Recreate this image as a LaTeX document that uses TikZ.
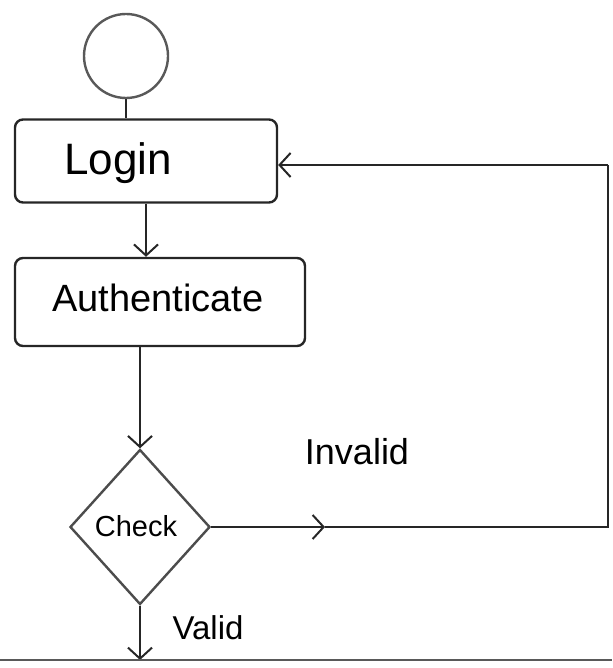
\documentclass[tikz,border=0pt]{standalone}
\usepackage{fontspec}
\setmainfont{Liberation Sans}
\usetikzlibrary{shapes.geometric,arrows.meta}
\begin{document}
\begin{tikzpicture}[x=1pt,y=-1pt,
  ln/.style={line width=2.4pt,draw=black!85},
  arr/.style={ln,-{Straight Barb[length=11pt,width=24pt,line width=2pt]}},
  boxnode/.style={ln,rectangle,rounded corners=8pt,inner sep=0pt},
  lbl/.style={font=\fontsize{36}{40}\selectfont}]
\useasboundingbox (0,0) rectangle (612,668);
\node[ln,circle,draw=black!65,minimum size=84pt,inner sep=0pt] (start) at (126,56) {};
\node[boxnode,minimum width=262pt,minimum height=83pt] (login) at (146,161) {};
\node[lbl,font=\fontsize{44}{48}\selectfont] (logintxt) at (118,163) {Login};
\node[boxnode,minimum width=290pt,minimum height=88pt] (auth) at (160,302) {};
\node[lbl,font=\fontsize{38}{42}\selectfont] (authtxt) at (158,298) {Authenticate};
\node[ln,diamond,draw=black!70,minimum width=140pt,minimum height=155pt,inner sep=0pt] (check) at (140,527) {};
\node[lbl,font=\fontsize{29}{32}\selectfont] (checktxt) at (136,526) {Check};
\node[lbl] (inv) at (357,452) {Invalid};
\node[lbl,font=\fontsize{33}{36}\selectfont] (val) at (208,628) {Valid};
\coordinate (vend) at (check.south |- 0,660);
\coordinate (bl) at (0,660);
\coordinate (br) at (612,660);
\coordinate (mid) at (325,527);
\coordinate (c1) at (608,527);
\coordinate (c2) at (608,165);
\coordinate (lentry) at (login.east |- c2);
\draw[ln] (start.south) -- (start.south |- login.north);
\draw[arr] (login.south) -- (login.south |- auth.north);
\draw[arr] (check.north |- auth.south) -- (check.north);
\draw[arr] (check.south) -- (vend);
\draw[ln,line width=1.8pt,draw=black!65] (bl) -- (br);
\draw[arr] (check.east) -- (mid);
\draw[ln] (mid) -- (c1) -- (c2);
\draw[arr] (c2) -- (lentry);
\end{tikzpicture}
\end{document}
